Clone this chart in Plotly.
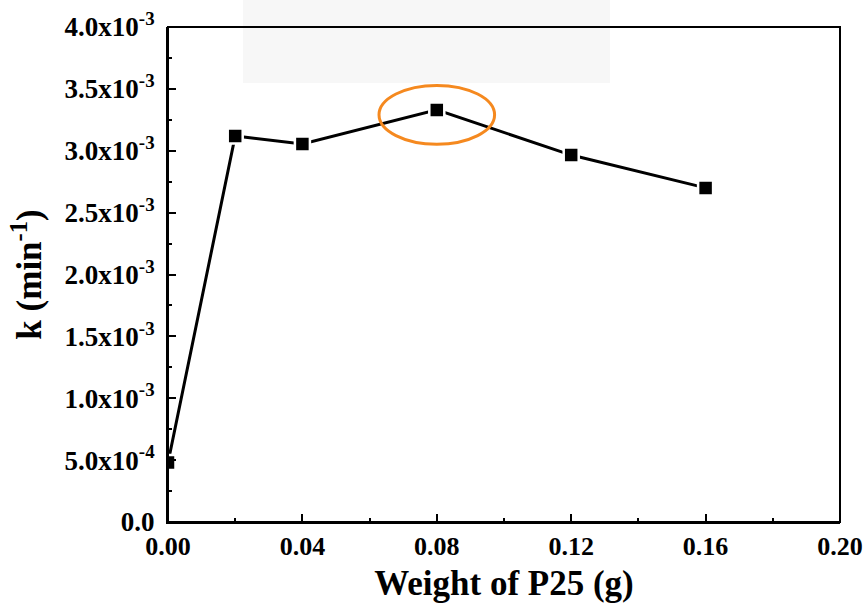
import plotly.graph_objects as go

weight_g = [0.00, 0.02, 0.04, 0.08, 0.12, 0.16]
k_values = [0.48e-3, 3.12e-3, 3.055e-3, 3.33e-3, 2.965e-3, 2.70e-3]

x_tick_vals = [0.00, 0.04, 0.08, 0.12, 0.16, 0.20]
x_tick_text = ["0.00", "0.04", "0.08", "0.12", "0.16", "0.20"]
y_tick_vals = [0.0, 0.5e-3, 1.0e-3, 1.5e-3, 2.0e-3, 2.5e-3, 3.0e-3, 3.5e-3, 4.0e-3]
y_tick_text = ["0.0", "5.0x10<sup>-4</sup>", "1.0x10<sup>-3</sup>", "1.5x10<sup>-3</sup>",
               "2.0x10<sup>-3</sup>", "2.5x10<sup>-3</sup>", "3.0x10<sup>-3</sup>",
               "3.5x10<sup>-3</sup>", "4.0x10<sup>-3</sup>"]

highlight_x = 0.08
highlight_y = 3.29e-3

FONT = "Liberation Serif"

fig = go.Figure()
fig.add_trace(go.Scatter(
    x=weight_g, y=k_values, mode="lines+markers",
    line=dict(color="black", width=3),
    marker=dict(symbol="square", size=15, color="black", line=dict(color="white", width=2.5)),
    cliponaxis=True, showlegend=False,
))

fig.add_shape(type="circle", xref="x", yref="y",
              x0=highlight_x - 0.0172, x1=highlight_x + 0.0172,
              y0=highlight_y - 0.238e-3, y1=highlight_y + 0.238e-3,
              line=dict(color="#F5891F", width=3))

# faint watermark area at top
fig.add_shape(type="rect", xref="paper", yref="paper",
              x0=(243 - 168) / 672, x1=(610 - 168) / 672,
              y0=(521.7 - 83) / 494.7, y1=1.1,
              fillcolor="#f7f7f7", line=dict(width=0), layer="below")

# plot frame
fig.add_shape(type="rect", xref="paper", yref="paper", x0=0, x1=1, y0=0, y1=1,
              line=dict(color="black", width=2), fillcolor="rgba(0,0,0,0)", layer="above")

axis_common = dict(
    showline=True, linecolor="black", linewidth=2, mirror=False,
    ticks="inside", ticklen=8, tickwidth=2, tickcolor="black",
    showgrid=False, zeroline=False, automargin=False,
    ticklabeloverflow="allow",
)

fig.update_xaxes(range=[0, 0.2], tickvals=x_tick_vals, ticktext=[f"<b>{t}</b>" for t in x_tick_text],
                 tickfont=dict(family=FONT, size=26, color="black"),
                 title=dict(text="<b>Weight of P25 (g)</b>", font=dict(family=FONT, size=35, color="black"), standoff=10),
                 minor=dict(ticks="inside", ticklen=4, tickwidth=1.5, tickcolor="black", dtick=0.02),
                 ticklabelstandoff=0,
                 **axis_common)
fig.update_yaxes(range=[0, 4.0e-3], tickvals=y_tick_vals, ticktext=[f"<b>{t}</b>" for t in y_tick_text],
                 tickfont=dict(family=FONT, size=27, color="black"),
                 title=dict(text="<b>k (min<sup>-1</sup>)</b>", font=dict(family=FONT, size=35, color="black"), standoff=12),
                 minor=dict(ticks="inside", ticklen=4, tickwidth=1.5, tickcolor="black", dtick=0.25e-3),
                 ticklabelstandoff=6,
                 **axis_common)

fig.update_layout(
    width=867, height=612,
    margin=dict(l=168, r=27, t=27, b=90),
    plot_bgcolor="white", paper_bgcolor="white",
    font=dict(family=FONT, color="black"),
)

# remove the default page margin so the figure fills the window exactly
fig.write_html("out.html", config={"displayModeBar": False},
               post_script="document.body.style.margin='0';document.body.style.overflow='hidden';")
